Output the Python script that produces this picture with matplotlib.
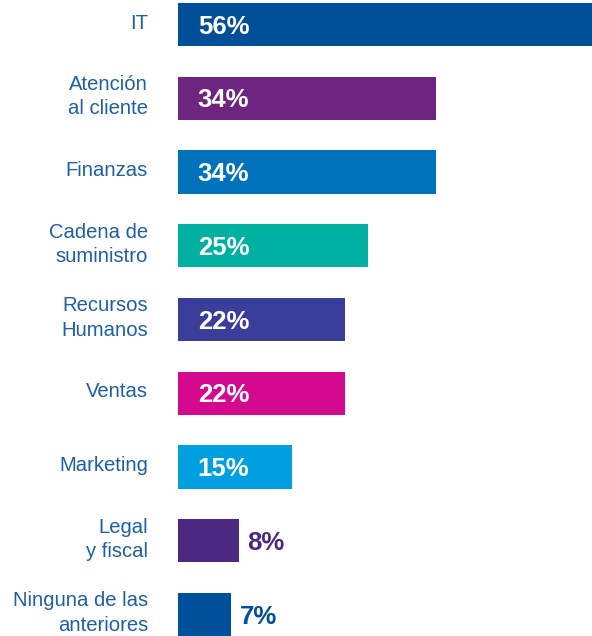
import matplotlib.pyplot as plt
from matplotlib.transforms import blended_transform_factory

categories = ['IT', 'Atención\nal cliente', 'Finanzas', 'Cadena de\nsuministro',
              'Recursos\nHumanos', 'Ventas', 'Marketing', 'Legal\ny fiscal',
              'Ninguna de las\nanteriores']
values = [56, 34, 34, 25, 22, 22, 15, 8, 7]
colors = ['#004f98', '#6d2580', '#0072bc', '#00b0a0', '#3a3d9a',
          '#d4098d', '#00a0e0', '#4b2882', '#00509b']

plt.rcParams['font.family'] = ['Liberation Sans', 'DejaVu Sans']

fig = plt.figure(figsize=(5.92, 6.36), dpi=100)
ax = fig.add_axes([178 / 592, 0, 1 - 178 / 592, 1])

pos = list(range(len(values)))
bh = 0.585
ax.barh(pos, values, height=bh, color=colors)
ax.set_xlim(0, 54.5)
ax.set_ylim(8 + bh / 2, -bh / 2 - 0.04)
ax.axis('off')

label_tr = blended_transform_factory(fig.transFigure, ax.transData)
for p, cat, v, c in zip(pos, categories, values, colors):
    ax.text(148 / 592, p - 0.02, cat, transform=label_tr, ha='right', va='center',
            fontsize=14.6, color='#1f5fa6', linespacing=1.36)
    if v >= 12:
        ax.text(2.6, p + 0.03, f'{v}%', ha='left', va='center', fontsize=18.5,
                fontweight='bold', color='white')
    else:
        ax.text(v + 1.1, p + 0.03, f'{v}%', ha='left', va='center', fontsize=18.5,
                fontweight='bold', color=c)

fig.savefig('out.png', dpi=100)
